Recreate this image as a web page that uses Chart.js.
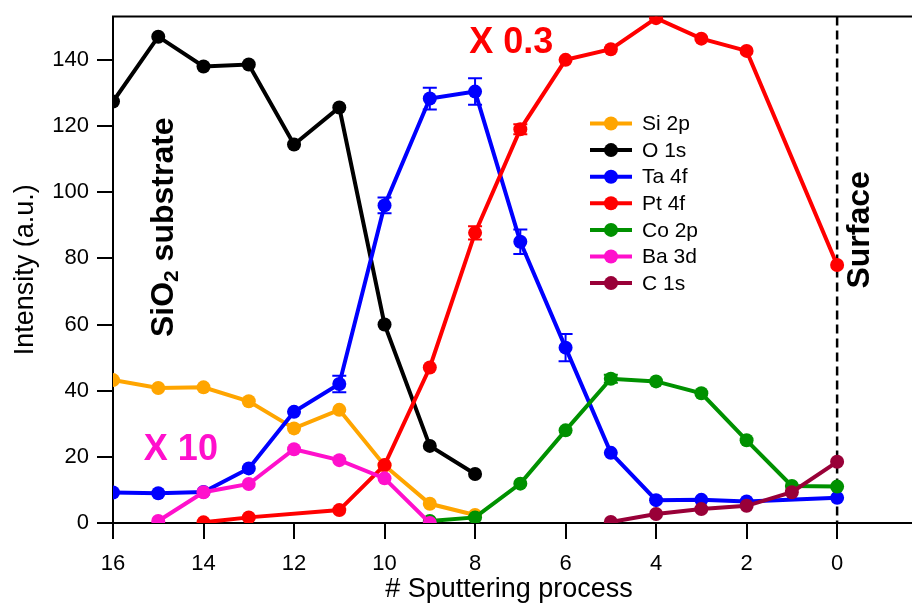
<!DOCTYPE html>
<html lang="en">
<head>
  <meta charset="UTF-8">
  <title>Depth profile</title>
  <style>
    body {
      margin: 0;
      background-color: #fff;
    }
    canvas {
      display: block;
    }
  </style>
</head>
<body>

  <canvas id="profileChart" width="912" height="606"></canvas>

  <script src="https://cdn.jsdelivr.net/npm/chart.js"></script>

  <script>
    // Sputtering steps, left to right (16 = deepest, 0 = surface)
    const steps = [16, 15, 14, 13, 12, 11, 10, 9, 8, 7, 6, 5, 4, 3, 2, 1, 0];

    // Intensities per step (null = not measured)
    const si2p = [43.2, 40.8, 41, 36.8, 28.6, 34.2, 17.4, 5.8, 2.4, null, null, null, null, null, null, null, null];
    const o1s  = [127.4, 147, 138, 138.6, 114.4, 125.6, 60, 23.3, 14.8, null, null, null, null, null, null, null, null];
    const ta4f = [9.2, 9, 9.4, 16.5, 33.6, 42, 96, 128.3, 130.4, 85, 53, 21.2, 6.9, 7, 6.5, null, 7.6];
    const pt4f = [null, null, 0.2, 1.7, null, 3.9, 17.5, 47, 87.7, 119, 140, 143.2, 152.6, 146.4, 142.7, null, 78];
    const co2p = [null, null, null, null, null, null, null, 0.6, 1.7, 11.9, 28, 43.6, 42.8, 39.2, 25, 11.2, 11];
    const ba3d = [null, 0.6, 9.3, 11.8, 22.3, 19, 13.5, 0, null, null, null, null, null, null, null, null, null];
    const c1s  = [null, null, null, null, null, null, null, null, null, null, null, 0.3, 2.7, 4.2, 5.2, 9.3, 18.5];

    // Error bar half-widths per step
    const ta4fErr = [null, null, null, null, null, 2.5, 2.4, 3.3, 4, 3.7, 4.1, null, null, null, null, null, null];
    const pt4fErr = [null, null, null, null, null, null, null, null, 2, 1.5, null, null, null, null, null, null, null];
    const co2pErr = [null, null, null, null, null, null, null, null, null, null, null, 1.2, null, null, null, null, null];

    const seriesNames  = ['Si 2p', 'O 1s', 'Ta 4f', 'Pt 4f', 'Co 2p', 'Ba 3d', 'C 1s'];
    const seriesValues = [si2p, o1s, ta4f, pt4f, co2p, ba3d, c1s];
    const seriesErrors = [null, null, ta4fErr, pt4fErr, co2pErr, null, null];
    const seriesColors = ['#FFA500', '#000000', '#0000FF', '#FF0000', '#009100', '#FF10CC', '#990038'];

    const xTicks = [16, 14, 12, 10, 8, 6, 4, 2, 0];
    const yTicks = [0, 20, 40, 60, 80, 100, 120, 140];

    const FONT = '"Liberation Sans", Arial, sans-serif';
    Chart.defaults.font.family = FONT;
    Chart.defaults.color = '#000';

    const datasets = seriesNames.map((name, i) => ({
      label: name,
      data: steps.map((s, j) => ({ x: s, y: seriesValues[i][j] })),
      errors: seriesErrors[i],
      borderColor: seriesColors[i],
      backgroundColor: seriesColors[i],
      borderWidth: 4,
      pointRadius: 7,
      pointBorderWidth: 0,
      spanGaps: true,
      order: seriesNames.length - i
    }));

    // top frame line and the dashed surface marker
    const framePlugin = {
      id: 'frame',
      beforeDatasetsDraw(chart) {
        const { ctx, chartArea, scales } = chart;
        ctx.save();
        ctx.strokeStyle = '#000';
        ctx.lineWidth = 2;
        ctx.beginPath();
        ctx.moveTo(chartArea.left - 1, chartArea.top);
        ctx.lineTo(chart.width, chartArea.top);
        ctx.moveTo(chartArea.left, chartArea.bottom);
        ctx.lineTo(chart.width, chartArea.bottom);
        ctx.stroke();

        const xs = scales.x.getPixelForValue(0);
        ctx.lineWidth = 2.5;
        ctx.setLineDash([9, 5]);
        ctx.beginPath();
        ctx.moveTo(xs, chartArea.top);
        ctx.lineTo(xs, chartArea.bottom);
        ctx.stroke();
        ctx.restore();
      }
    };

    const errorBarPlugin = {
      id: 'errorBars',
      afterDatasetsDraw(chart) {
        const { ctx, scales } = chart;
        ctx.save();
        ctx.lineWidth = 2;
        chart.data.datasets.forEach(ds => {
          if (!ds.errors) return;
          ctx.strokeStyle = ds.borderColor;
          ds.data.forEach((p, j) => {
            const e = ds.errors[j];
            if (e == null || p.y == null) return;
            const x = scales.x.getPixelForValue(p.x);
            const y1 = scales.y.getPixelForValue(p.y + e);
            const y2 = scales.y.getPixelForValue(p.y - e);
            ctx.beginPath();
            ctx.moveTo(x, y1); ctx.lineTo(x, y2);
            ctx.moveTo(x - 7, y1); ctx.lineTo(x + 7, y1);
            ctx.moveTo(x - 7, y2); ctx.lineTo(x + 7, y2);
            ctx.stroke();
          });
        });
        ctx.restore();
      }
    };

    // legend box, scale factors and region labels
    const labelPlugin = {
      id: 'labels',
      afterDraw(chart) {
        const { ctx, scales } = chart;
        const xs = v => scales.x.getPixelForValue(v);
        const ys = v => scales.y.getPixelForValue(v);
        ctx.save();

        // legend
        ctx.font = '21px ' + FONT;
        ctx.textBaseline = 'middle';
        seriesNames.forEach((name, i) => {
          const y = 123.5 + i * 26.6;
          ctx.strokeStyle = seriesColors[i];
          ctx.fillStyle = seriesColors[i];
          ctx.lineWidth = 4;
          ctx.beginPath();
          ctx.moveTo(590, y); ctx.lineTo(632, y);
          ctx.stroke();
          ctx.beginPath();
          ctx.arc(611, y, 7, 0, Math.PI * 2);
          ctx.fill();
          ctx.fillStyle = '#000';
          ctx.fillText(name, 642, y + 1);
        });

        // multiplier notes
        ctx.textAlign = 'center';
        ctx.font = 'bold 36px ' + FONT;
        ctx.fillStyle = '#FF0000';
        ctx.fillText('X 0.3', xs(7.2), ys(145));
        ctx.fillStyle = '#FF10CC';
        ctx.fillText('X 10', xs(14.5), ys(22));

        // vertical region labels
        ctx.fillStyle = '#000';
        ctx.save();
        ctx.translate(xs(-0.51), ys(88.6));
        ctx.rotate(-Math.PI / 2);
        ctx.font = 'bold 32px ' + FONT;
        ctx.fillText('Surface', 0, 0);
        ctx.restore();

        ctx.save();
        ctx.translate(xs(14.88), ys(89.4));
        ctx.rotate(-Math.PI / 2);
        ctx.textAlign = 'left';
        const big = 'bold 32px ' + FONT;
        const small = 'bold 21px ' + FONT;
        ctx.font = big;
        const w1 = ctx.measureText('SiO').width;
        const w3 = ctx.measureText(' substrate').width;
        ctx.font = small;
        const w2 = ctx.measureText('2').width;
        let x = -(w1 + w2 + w3) / 2;
        ctx.font = big;
        ctx.fillText('SiO', x, 0);
        x += w1;
        ctx.font = small;
        ctx.fillText('2', x, 9);
        x += w2;
        ctx.font = big;
        ctx.fillText(' substrate', x, 0);
        ctx.restore();

        ctx.restore();
      }
    };

    new Chart(document.getElementById('profileChart'), {
      type: 'line',
      data: { datasets },
      options: {
        responsive: false,
        animation: false,
        devicePixelRatio: 1,
        layout: { padding: { top: 16.5, right: 0, left: 0, bottom: 0 } },
        plugins: {
          legend: { display: false },
          tooltip: { enabled: false }
        },
        scales: {
          x: {
            type: 'linear',
            reverse: true,
            min: -1.5,
            max: 16,
            afterBuildTicks: s => { s.ticks = xTicks.map(v => ({ value: v })); },
            afterFit: s => { s.height = 83; s.paddingLeft = 0; s.paddingRight = 0; },
            border: { display: true, color: '#000', width: 2 },
            grid: { display: true, drawOnChartArea: false, color: '#000', lineWidth: 2, tickLength: 16 },
            ticks: { font: { size: 22 }, color: '#000', padding: 12, maxRotation: 0 },
            title: { display: true, text: '# Sputtering process', font: { size: 27 }, color: '#000', padding: { top: 0, bottom: 0 } }
          },
          y: {
            type: 'linear',
            min: 0,
            max: 153.1,
            afterBuildTicks: s => { s.ticks = yTicks.map(v => ({ value: v })); },
            afterFit: s => { s.width = 113; s.paddingTop = 0; s.paddingBottom = 0; },
            border: { display: true, color: '#000', width: 2 },
            grid: { display: true, drawOnChartArea: false, color: '#000', lineWidth: 2, tickLength: 16 },
            ticks: { font: { size: 22 }, color: '#000', padding: 8 },
            title: { display: true, text: 'Intensity (a.u.)', font: { size: 27 }, color: '#000', padding: { top: 9, bottom: 0 } }
          }
        }
      },
      plugins: [framePlugin, errorBarPlugin, labelPlugin]
    });
  </script>

</body>
</html>
